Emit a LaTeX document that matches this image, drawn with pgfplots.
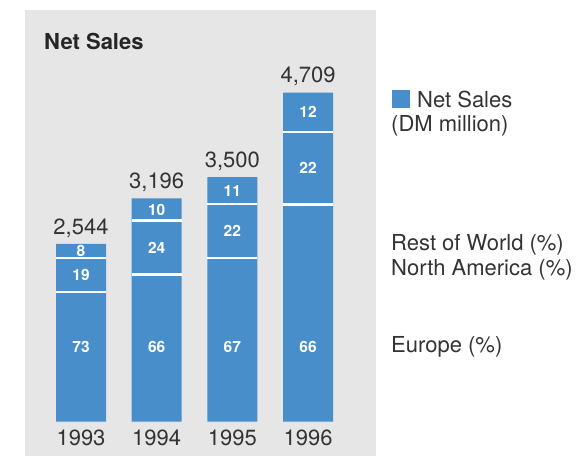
\documentclass[border=0pt]{standalone}
\usepackage{pgfplots}
\usepackage{pgfplotstable}
\pgfplotsset{compat=1.18}
\usepackage{fontspec}
\setmainfont{TeX Gyre Heros}
\definecolor{panel}{HTML}{E6E6E6}
\definecolor{barblue}{HTML}{488ECB}
\definecolor{ink}{HTML}{333333}

% net sales in DM million, regional shares in %
\pgfplotstableread{
x year total eu na row
0 1993 2544 73 19 8
1 1994 3196 66 24 10
2 1995 3500 67 22 11
3 1996 4709 66 22 12
}\sales

\begin{document}
\begin{tikzpicture}[x=1pt,y=1pt]
\path[use as bounding box] (0,0) rectangle (587,456);
\begin{axis}[
  at={(25pt,0pt)}, anchor=south west,
  scale only axis, width=351pt, height=446pt,
  xmin=-0.74, xmax=3.898, ymin=-491, ymax=5890,
  axis background/.style={fill=panel},
  axis line style={draw=none},
  major tick length=0pt,
  ytick=\empty,
  xtick={0,1,2,3}, xticklabels={1993,1994,1995,1996},
  xticklabel style={anchor=base, yshift=11pt, text=ink,
    font=\fontsize{22}{24}\selectfont},
  clip=false,
  /pgf/number format/1000 sep={,},
  /pgf/number format/assume math mode=true,
]
% bars
\addplot[ybar, bar width=50pt, bar shift=0pt, fill=barblue, draw=none]
  table[x=x, y=total]{\sales};
% white separators between regions
\addplot[only marks, mark=-, mark size=25pt,
  mark options={draw=white, line width=2.5pt}]
  table[x=x, y expr=\thisrow{total}*\thisrow{eu}/100]{\sales};
\addplot[only marks, mark=-, mark size=25pt,
  mark options={draw=white, line width=2.5pt}]
  table[x=x, y expr=\thisrow{total}*(\thisrow{eu}+\thisrow{na})/100]{\sales};
% segment labels
\pgfplotsset{seglab/.style={only marks, mark=*, mark size=0pt,
  mark options={draw=none, fill=none},
  nodes near coords, nodes near coords align={center},
  point meta=explicit symbolic,
  every node near coord/.append style={text=white,
    font=\bfseries\fontsize{15.5}{17}\selectfont}}}
\addplot[seglab] table[x=x, y expr=1075, meta=eu]{\sales};
\addplot[seglab] table[x=x, y expr=\thisrow{total}*(\thisrow{eu}+\thisrow{na}/2)/100, meta=na]{\sales};
\addplot[seglab] table[x=x, y expr=\thisrow{total}*(\thisrow{eu}+\thisrow{na}+\thisrow{row}/2)/100, meta=row]{\sales};
% totals
\addplot[only marks, mark=*, mark size=0pt,
  mark options={draw=none, fill=none},
  nodes near coords, nodes near coords align={center},
  point meta=explicit,
  every node near coord/.append style={text=ink, yshift=16pt,
    font=\fontsize{22}{24}\selectfont}]
  table[x=x, y=total, meta=total]{\sales};
\end{axis}

\node[anchor=base west, inner sep=0pt, text=black!85,
  font=\bfseries\fontsize{22}{24}\selectfont] at (44,406.5) {Net Sales};

\fill[barblue] (392,348) rectangle (410,366);
\begin{scope}[every node/.style={anchor=base west, inner sep=0pt, text=ink,
  font=\fontsize{22}{24}\selectfont}]
\node at (417,348.5) {Net Sales};
\node at (391,324.5) {(DM million)};
\node at (391,205) {Rest of World (\%)};
\node at (391,180) {North America (\%)};
\node at (391,103) {Europe (\%)};
\end{scope}
\end{tikzpicture}
\end{document}
